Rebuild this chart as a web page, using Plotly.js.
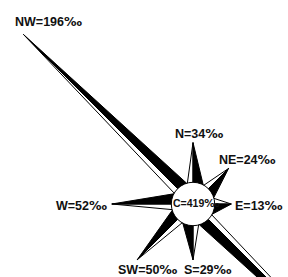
<!DOCTYPE html>
<html>
<head>
<meta charset="utf-8">
<script src="https://cdn.plot.ly/plotly-3.0.1.min.js"></script>
<style>html,body{margin:0;padding:0;background:#fff;}#chart{width:288px;height:277px;}</style>
</head>
<body>
<div id="chart"></div>
<script>
// ---- data (‰) ----
const directions = ['N', 'NE', 'E', 'SE', 'S', 'SW', 'W', 'NW'];
const bearings = [0, 45, 90, 135, 180, 225, 270, 315];
const values = [34, 24, 13, 183, 29, 50, 52, 196];
const calmLabel = 'C';
const calmValue = 419;
const unit = '‰';

// ---- geometry / style (pixels, 1 data unit = 1 px) ----
const R_CIRCLE = 21.7;   // calm circle radius
const R0 = 24;           // arm length offset
const K = 1.1;           // px per ‰
const DELTA_BLACK = 28 * Math.PI / 180; // clockwise (black) half-angle
const DELTA_WHITE = 15 * Math.PI / 180; // counter-clockwise (white) half-angle
// label offsets from tip (dx right, dy up), text centre
const labelOffsets = {
  N: [6, 9], NE: [19, 8.4], E: [28, -1], S: [15, -10],
  SW: [10, -10], W: [-30, -1], NW: [25, 12.6]
};
const FONT = 'Liberation Sans, Arial, sans-serif';
const unitHtml = '<span style="font-family:DejaVu Sans">' + unit + '</span>';

function pt(bearingRad, r) {
  return [r * Math.sin(bearingRad), r * Math.cos(bearingRad)];
}

const traces = [];
const annotations = [];
directions.forEach((d, i) => {
  const th = bearings[i] * Math.PI / 180;
  const L = R0 + K * values[i];
  const tip = pt(th, L);
  const cw = pt(th + DELTA_BLACK, R_CIRCLE);
  const ccw = pt(th - DELTA_WHITE, R_CIRCLE);
  // white half (counter-clockwise side)
  traces.push({
    type: 'scatter', mode: 'lines', fill: 'toself', fillcolor: '#ffffff',
    x: [0, tip[0], ccw[0], 0], y: [0, tip[1], ccw[1], 0],
    line: {color: '#000', width: 1}, hoverinfo: 'skip', showlegend: false
  });
  // black half (clockwise side)
  traces.push({
    type: 'scatter', mode: 'lines', fill: 'toself', fillcolor: '#000000',
    x: [0, tip[0], cw[0], 0], y: [0, tip[1], cw[1], 0],
    line: {color: '#000', width: 1}, hoverinfo: 'skip', showlegend: false
  });
  if (labelOffsets[d]) {
    annotations.push({
      x: tip[0], y: tip[1], xref: 'x', yref: 'y',
      text: d + '=' + values[i] + unitHtml, showarrow: false,
      xanchor: 'center', yanchor: 'middle',
      xshift: labelOffsets[d][0], yshift: labelOffsets[d][1],
      font: {family: FONT, size: 12.5, color: '#111', weight: 'bold'}
    });
  }
});

annotations.push({
  x: 0, y: 0, xref: 'x', yref: 'y', text: calmLabel + '=' + calmValue + unitHtml,
  showarrow: false, xanchor: 'center', yanchor: 'middle', xshift: 2.5, yshift: 1,
  font: {family: FONT, size: 10.5, color: '#111', weight: 'bold'}
});

const layout = {
  width: 288, height: 277,
  margin: {l: 0, r: 0, t: 0, b: 0, pad: 0},
  paper_bgcolor: '#fff', plot_bgcolor: '#fff',
  xaxis: {range: [-193, 95], visible: false, fixedrange: true},
  yaxis: {range: [-73, 204], visible: false, fixedrange: true},
  shapes: [{
    type: 'circle', xref: 'x', yref: 'y', layer: 'above',
    x0: -R_CIRCLE, x1: R_CIRCLE, y0: -R_CIRCLE, y1: R_CIRCLE,
    fillcolor: '#fff', line: {color: '#000', width: 1}
  }],
  annotations: annotations,
  showlegend: false
};

Plotly.newPlot('chart', traces, layout, {displayModeBar: false, staticPlot: true});
</script>
</body>
</html>
